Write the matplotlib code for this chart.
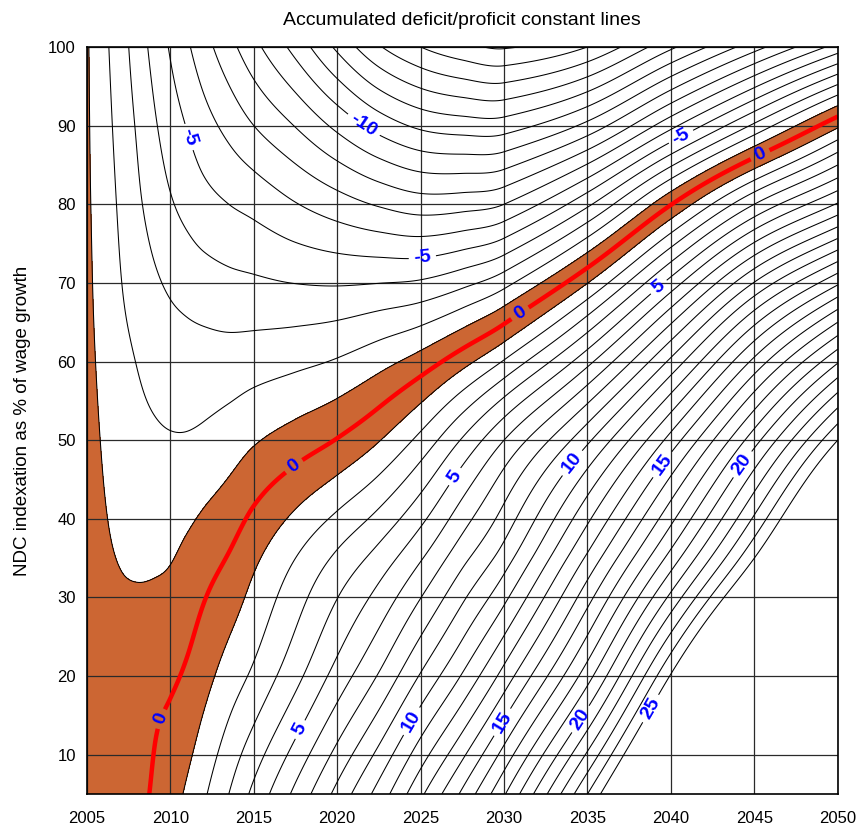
import numpy as np
import matplotlib
matplotlib.use("Agg")
import matplotlib.pyplot as plt

# ---- data ----
# accumulated deficit/proficit (units) at eight indexation levels, per knot year
years = [2005, 2006, 2007, 2008, 2009, 2010, 2011, 2012, 2013.5, 2015, 2017.5,
         2020, 2022.5, 2025, 2027.5, 2030, 2035, 2040, 2045, 2050]
sample_p = [5, 20, 35, 50, 65, 80, 90, 100]
z_p5 = [0, -0.15, -0.25, -0.2, 0.1, 0.6, 1.15, 1.85, 3.0, 4.25, 6.25,
        8.3, 10.4, 12.8, 15.2, 17.9, 24.0, 30.5, 36.0, 41.5]
z_p20 = [-0.1, -0.35, -0.45, -0.4, -0.25, -0.15, 0.15, 0.65, 1.45, 2.2, 3.7,
         5.4, 7.1, 9.1, 11.1, 13.4, 18.6, 25.1, 31.5, 37.0]
z_p35 = [-0.3, -0.8, -1.05, -1.15, -1.15, -1.05, -0.77, -0.43, 0.07, 0.8, 2.0,
         3.2, 4.4, 5.9, 7.7, 9.5, 14.2, 19.4, 25.0, 31.0]
z_p50 = [-0.55, -1.1, -1.45, -1.7, -1.85, -1.93, -1.92, -1.8, -1.5, -1.1, -0.55,
         0.05, 0.95, 2.3, 4.1, 6.0, 9.8, 14.4, 19.6, 25.0]
z_p65 = [-0.75, -1.35, -1.85, -2.2, -2.55, -2.8, -2.95, -3.05, -3.15, -3.15, -3.1,
         -2.95, -2.6, -2.15, -1.3, -0.1, 3.4, 7.9, 12.8, 17.0]
z_p80 = [-0.85, -1.5, -2.15, -2.8, -3.4, -3.9, -4.3, -4.65, -5.0, -5.3, -5.95,
         -6.55, -7.1, -7.5, -7.4, -7.0, -4.2, -0.05, 4.0, 7.1]
z_p90 = [-0.88, -1.62, -2.35, -3.1, -3.85, -4.5, -5.05, -5.6, -6.3, -7.0, -8.05,
         -9.25, -10.4, -11.2, -11.5, -11.5, -9.7, -6.3, -2.8, 0.8]
z_p100 = [-0.9, -1.75, -2.55, -3.45, -4.3, -5.1, -5.85, -6.6, -7.65, -8.7, -10.35,
          -12.2, -13.9, -15.0, -15.7, -16.1, -15.0, -12.2, -9.4, -6.6]

label_levels = [-10, -5, 5, 10, 15, 20, 25]
plain_levels = [lv for lv in range(-20, 26) if lv != 0 and lv not in label_levels]
label_spots = [(2011.2, 88.6), (2025.1, 73.3), (2040.7, 88.2), (2021.5, 89.8),
               (2017.5, 13.5), (2027.3, 45.0), (2039.3, 69.4),
               (2024.5, 14.2), (2034.2, 46.9), (2030.0, 14.0), (2039.3, 47.2),
               (2034.6, 14.5), (2044.1, 47.2), (2038.6, 16.1)]
zero_spots = [(2009.5, 14.5), (2017.3, 47.0), (2031.0, 66.0), (2045.3, 86.5)]


def hermite(xk, Y, x):
    """Cubic Hermite (Catmull-Rom style) along axis 0 of Y."""
    xk = np.asarray(xk, float)
    Y = np.asarray(Y, float)
    n = len(xk)
    m = np.zeros_like(Y)
    m[0] = (Y[1] - Y[0]) / (xk[1] - xk[0])
    m[-1] = (Y[-1] - Y[-2]) / (xk[-1] - xk[-2])
    for i in range(1, n - 1):
        m[i] = (Y[i + 1] - Y[i - 1]) / (xk[i + 1] - xk[i - 1])
    idx = np.clip(np.searchsorted(xk, x, side="right") - 1, 0, n - 2)
    h = xk[idx + 1] - xk[idx]
    t = (x - xk[idx]) / h
    shape = (-1,) + (1,) * (Y.ndim - 1)
    t = t.reshape(shape)
    h = h.reshape(shape)
    h00 = 2 * t**3 - 3 * t**2 + 1
    h10 = t**3 - 2 * t**2 + t
    h01 = -2 * t**3 + 3 * t**2
    h11 = t**3 - t**2
    return h00 * Y[idx] + h10 * h * m[idx] + h01 * Y[idx + 1] + h11 * h * m[idx + 1]


# ---- build the field ----
P = np.arange(5, 100.001, 0.25)
T = np.arange(2005, 2050.001, 0.05)
table = np.array([z_p5, z_p20, z_p35, z_p50, z_p65, z_p80, z_p90, z_p100], float)
Zp = hermite(sample_p, table, P)          # (len(P), n_years)
Z = hermite(years, Zp.T, T).T             # (len(P), len(T))
TT, PP = np.meshgrid(T, P)

# ---- plot ----
plt.rcParams["font.family"] = ["Liberation Sans", "DejaVu Sans"]
plt.rcParams["contour.negative_linestyle"] = "solid"
fig = plt.figure(figsize=(8.61, 8.31), dpi=100)
ax = fig.add_axes([0.101, 0.0445, 0.872, 0.899])

ax.contourf(TT, PP, Z, levels=[-1, 1], colors=["#CC6633"], zorder=1)
ax.set_xlim(2005, 2050)
ax.set_ylim(5, 100)
ax.set_xticks(range(2005, 2051, 5))
ax.set_yticks(range(10, 101, 10))
ax.grid(True, color="#2a2a2a", linewidth=0.9, zorder=2)
ax.set_axisbelow(False)

ax.contour(TT, PP, Z, levels=plain_levels, colors="black",
           linewidths=0.75, linestyles="solid", zorder=3)
cl = ax.contour(TT, PP, Z, levels=label_levels, colors="black",
                linewidths=0.75, linestyles="solid", zorder=3)
cz = ax.contour(TT, PP, Z, levels=[0], colors="#FF0000", linewidths=3.2, zorder=4)

lab = ax.clabel(cl, manual=label_spots, fmt="%d", inline=True,
                fontsize=14, colors="#0000FF")
for tx in lab:
    tx.set_fontweight("bold")
labz = ax.clabel(cz, manual=zero_spots, fmt="%d", inline=True,
                 fontsize=14, colors="#0000FF")
for tx in labz:
    tx.set_fontweight("bold")

ax.tick_params(axis="x", labelsize=12, length=0, pad=12)
ax.tick_params(axis="y", labelsize=12, length=0, pad=8)
for s in ax.spines.values():
    s.set_linewidth(1.2)
    s.set_zorder(5)
ax.set_title("Accumulated deficit/proficit constant lines", fontsize=14, pad=16)
ax.set_ylabel("NDC indexation as % of wage growth", fontsize=13.5, labelpad=12)

fig.savefig("out.png", dpi=100)
